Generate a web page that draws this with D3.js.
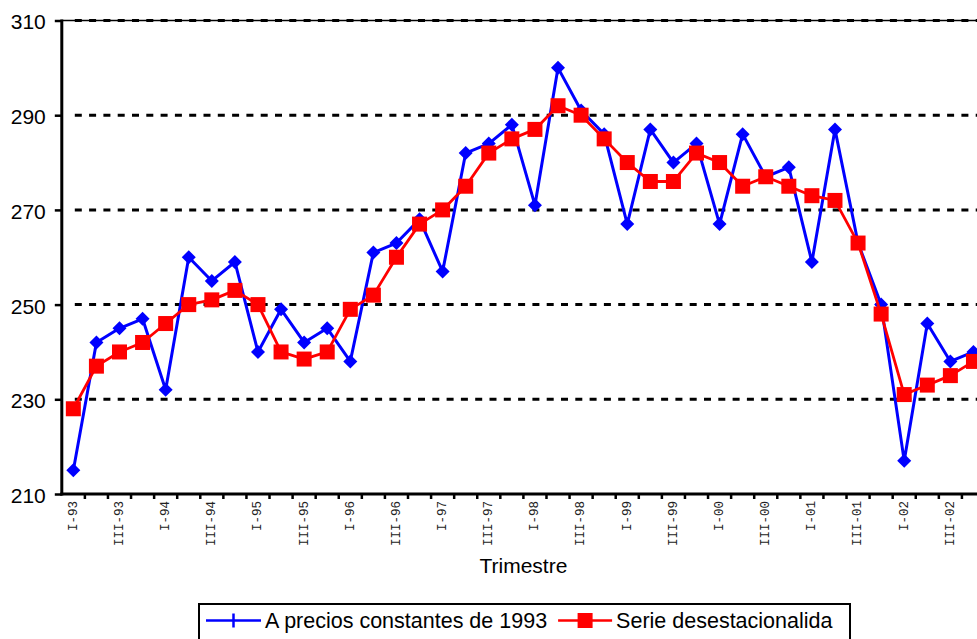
<!DOCTYPE html>
<html>
<head>
<meta charset="utf-8">
<script src="https://cdn.jsdelivr.net/npm/d3@7"></script>
<style>
  html, body { margin: 0; padding: 0; background: #fff; }
  svg { display: block; }
</style>
</head>
<body>
<svg id="chart" width="977" height="639"></svg>
<script>
// Quarters I-93 … IV-02
const years = ["93","94","95","96","97","98","99","00","01","02"];
const romans = ["I","II","III","IV"];
const quarters = years.flatMap(y => romans.map(r => r + "-" + y));

// Only quarters I and III carry a tick label
const tickLabels = quarters.map((q, i) => (i % 2 === 0 ? q : ""));

// A precios constantes de 1993
const constantPrices = [
  215, 242, 245, 247, 232, 260, 255, 259, 240, 249,
  242, 245, 238, 261, 263, 268, 257, 282, 284, 288,
  271, 300, 291, 286, 267, 287, 280, 284, 267, 286,
  277, 279, 259, 287, 263, 250, 217, 246, 238, 240
];

// Serie desestacionalizada
const seasonallyAdjusted = [
  228, 237, 240, 242, 246, 250, 251, 253, 250, 240,
  238.5, 240, 249, 252, 260, 267, 270, 275, 282, 285,
  287, 292, 290, 285, 280, 276, 276, 282, 280, 275,
  277, 275, 273, 272, 263, 248, 231, 233, 235, 238
];

const yTicks = [210, 230, 250, 270, 290, 310];
const seriesNames = ["A precios constantes de 1993", "Serie desestacionalida"];
const xTitle = "Trimestre";

const svg = d3.select("#chart");
const W = 977;

const plot = { left: 61.8, top: 20.5, bottom: 494, step: 23.08 };
const plotRight = plot.left + plot.step * quarters.length;

const x = d3.scaleBand().domain(quarters).range([plot.left, plotRight]).paddingInner(0).paddingOuter(0);
const y = d3.scaleLinear().domain([210, 310]).range([plot.bottom, plot.top]);
const cx = q => x(q) + x.bandwidth() / 2;

svg.append("rect").attr("width", W).attr("height", 639).attr("fill", "#fff");

// Horizontal gridlines
const grid = svg.append("g");
grid.append("line")
  .attr("x1", plot.left).attr("x2", W)
  .attr("y1", y(310)).attr("y2", y(310))
  .attr("stroke", "#000").attr("stroke-width", 1.5);
grid.selectAll("line.g").data(yTicks.filter(v => v > 210)).enter().append("line")
  .attr("class", "g")
  .attr("x1", plot.left + 13).attr("x2", W)
  .attr("y1", d => y(d)).attr("y2", d => y(d))
  .attr("stroke", "#000").attr("stroke-width", 3)
  .attr("stroke-dasharray", "7,7.3");

// Y axis
const yAxis = d3.axisLeft(y).tickValues(yTicks).tickSize(7).tickPadding(9).tickFormat(d3.format("d"));
const gy = svg.append("g").attr("transform", `translate(${plot.left},0)`).call(yAxis);
gy.select(".domain").remove();
gy.append("line").attr("x1", 0).attr("x2", 0).attr("y1", plot.top - 1).attr("y2", plot.bottom + 1.5)
  .attr("stroke", "#000").attr("stroke-width", 3);
gy.selectAll(".tick line").attr("stroke", "#000").attr("stroke-width", 2.5);
gy.selectAll(".tick text")
  .attr("fill", "#000")
  .attr("font-family", "Liberation Sans, Arial, sans-serif")
  .attr("font-size", 21)
  .attr("x", -16)
  .attr("dy", "0.4em");

// X axis (ticks at quarter boundaries)
const gx = svg.append("g").attr("transform", `translate(0,${plot.bottom})`);
gx.append("line").attr("x1", plot.left - 1.5).attr("x2", W).attr("y1", 0).attr("y2", 0)
  .attr("stroke", "#000").attr("stroke-width", 3);
gx.selectAll("line.tk").data(quarters).enter().append("line")
  .attr("class", "tk")
  .attr("x1", d => x(d) + x.bandwidth()).attr("x2", d => x(d) + x.bandwidth())
  .attr("y1", 0).attr("y2", 5)
  .attr("stroke", "#000").attr("stroke-width", 2.5);
gx.selectAll("text").data(quarters).enter().append("text")
  .attr("transform", d => `translate(${cx(d) - 1},7) rotate(-90)`)
  .attr("text-anchor", "end")
  .attr("dy", "0.35em")
  .attr("font-family", "Liberation Mono, Courier New, monospace")
  .attr("font-size", 12.5)
  .attr("fill", "#222")
  .text((d, i) => tickLabels[i]);

// X title
svg.append("text")
  .attr("x", (plot.left + plotRight) / 2).attr("y", 573)
  .attr("text-anchor", "middle")
  .attr("font-family", "Liberation Sans, Arial, sans-serif")
  .attr("font-size", 21).attr("fill", "#000")
  .text(xTitle);

// Series
const blue = "#0000ff", red = "#ff0000";
const line = d3.line().x((d, i) => cx(quarters[i])).y(d => y(d));

svg.append("path").datum(constantPrices)
  .attr("d", line).attr("fill", "none")
  .attr("stroke", blue).attr("stroke-width", 3).attr("stroke-linejoin", "round");
svg.append("g").selectAll("path").data(constantPrices).enter().append("path")
  .attr("d", d3.symbol(d3.symbolDiamond2, 125))
  .attr("transform", (d, i) => `translate(${cx(quarters[i])},${y(d)})`)
  .attr("fill", blue);

svg.append("path").datum(seasonallyAdjusted)
  .attr("d", line).attr("fill", "none")
  .attr("stroke", red).attr("stroke-width", 2.8).attr("stroke-linejoin", "round");
svg.append("g").selectAll("rect").data(seasonallyAdjusted).enter().append("rect")
  .attr("x", (d, i) => cx(quarters[i]) - 7.5)
  .attr("y", d => y(d) - 7.5)
  .attr("width", 15).attr("height", 15)
  .attr("fill", red);

// Legend
const lg = svg.append("g");
lg.append("rect").attr("x", 199).attr("y", 604).attr("width", 651).attr("height", 60)
  .attr("fill", "#fff").attr("stroke", "#000").attr("stroke-width", 2);
const ly = 620.5;
lg.append("line").attr("x1", 206).attr("x2", 261).attr("y1", ly).attr("y2", ly)
  .attr("stroke", blue).attr("stroke-width", 2.5);
lg.append("line").attr("x1", 233.5).attr("x2", 233.5).attr("y1", ly - 7).attr("y2", ly + 7)
  .attr("stroke", blue).attr("stroke-width", 2.5);
const t1 = lg.append("text").attr("x", 265).attr("y", 627.5)
  .attr("font-family", "Liberation Sans, Arial, sans-serif").attr("font-size", 21.5).attr("fill", "#000")
  .text(seriesNames[0]);
const x2 = 265 + t1.node().getComputedTextLength() + 11;
lg.append("line").attr("x1", x2).attr("x2", x2 + 54).attr("y1", ly).attr("y2", ly)
  .attr("stroke", red).attr("stroke-width", 2.5);
lg.append("rect").attr("x", x2 + 27 - 7.5).attr("y", ly - 7.5).attr("width", 15).attr("height", 15)
  .attr("fill", red);
lg.append("text").attr("x", x2 + 58).attr("y", 627.5)
  .attr("font-family", "Liberation Sans, Arial, sans-serif").attr("font-size", 21.5).attr("fill", "#000")
  .text(seriesNames[1]);
</script>
</body>
</html>
